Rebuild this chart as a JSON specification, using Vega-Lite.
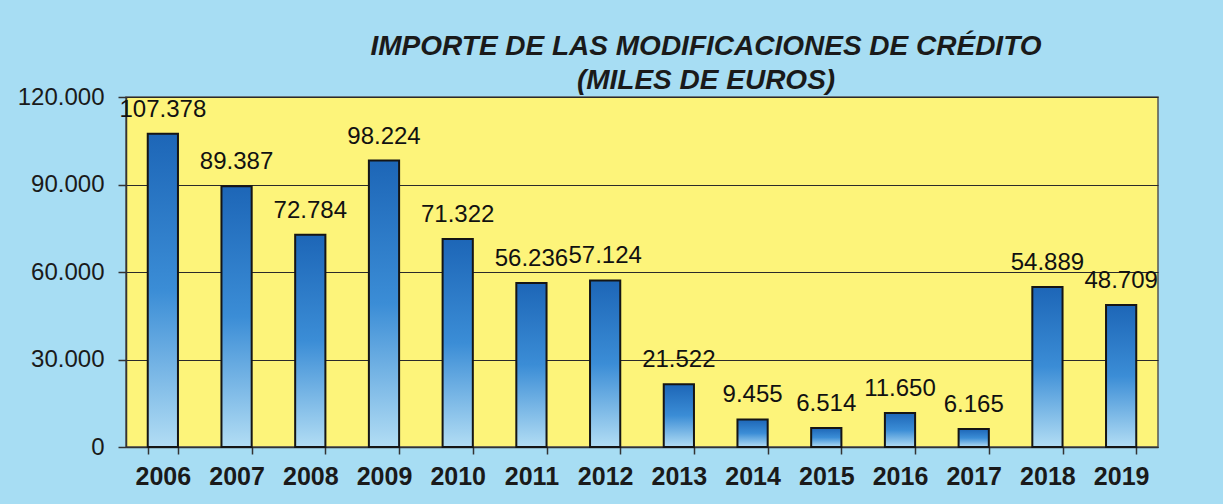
{
  "$schema": "https://vega.github.io/schema/vega-lite/v6.json",
  "width": 1032,
  "height": 350,
  "autosize": {"type": "none"},
  "padding": {"left": 126, "top": 97, "right": 65, "bottom": 57},
  "background": "#a7ddf3",
  "title": {
    "text": ["IMPORTE DE LAS MODIFICACIONES DE CRÉDITO", "(MILES DE EUROS)"],
    "anchor": "middle",
    "dx": 64,
    "dy": 18,
    "offset": 8,
    "font": "Liberation Sans",
    "fontSize": 28,
    "fontStyle": "italic",
    "fontWeight": "bold",
    "color": "#1a1a1a",
    "lineHeight": 34
  },
  "data": {
    "values": [
      {"year": "2006", "value": 107378},
      {"year": "2007", "value": 89387},
      {"year": "2008", "value": 72784},
      {"year": "2009", "value": 98224},
      {"year": "2010", "value": 71322},
      {"year": "2011", "value": 56236},
      {"year": "2012", "value": 57124},
      {"year": "2013", "value": 21522},
      {"year": "2014", "value": 9455},
      {"year": "2015", "value": 6514},
      {"year": "2016", "value": 11650},
      {"year": "2017", "value": 6165},
      {"year": "2018", "value": 54889},
      {"year": "2019", "value": 48709}
    ]
  },
  "encoding": {
    "x": {
      "field": "year",
      "type": "ordinal",
      "title": null,
      "scale": {"paddingInner": 0.59, "paddingOuter": 0.295},
      "axis": {
        "labelAngle": 0,
        "labelFont": "Liberation Sans",
        "labelFontSize": 25,
        "labelFontWeight": "bold",
        "labelColor": "#1a1a1a",
        "labelPadding": 10,
        "tickBand": "extent",
        "tickSize": 7,
        "tickColor": "#333333",
        "domainColor": "#333333",
        "domainWidth": 1.5,
        "tickWidth": 1.5
      }
    },
    "y": {
      "field": "value",
      "type": "quantitative",
      "title": null,
      "scale": {"domain": [0, 120000], "nice": false},
      "axis": {
        "values": [0, 30000, 60000, 90000, 120000],
        "format": ",d",
        "labelFont": "Liberation Sans",
        "labelFontSize": 24,
        "labelColor": "#1a1a1a",
        "labelPadding": 14,
        "tickSize": 8,
        "tickColor": "#333333",
        "tickWidth": 1.5,
        "domainColor": "#333333",
        "domainWidth": 1.5,
        "grid": true,
        "gridColor": "#2a2a2a",
        "gridWidth": 1.2,
        "gridOpacity": 1
      }
    }
  },
  "layer": [
    {
      "mark": {
        "type": "bar",
        "stroke": "#151515",
        "strokeWidth": 2,
        "fill": {
          "gradient": "linear",
          "x1": 0, "y1": 0, "x2": 0, "y2": 1,
          "stops": [
            {"offset": 0, "color": "#1d66b7"},
            {"offset": 0.5, "color": "#3b8dd6"},
            {"offset": 1, "color": "#b2ddf4"}
          ]
        }
      }
    },
    {
      "mark": {
        "type": "text",
        "baseline": "alphabetic",
        "dy": -17,
        "font": "Liberation Sans",
        "fontSize": 24,
        "color": "#111111"
      },
      "encoding": {
        "text": {"field": "value", "type": "quantitative", "format": ",d"}
      }
    }
  ],
  "config": {
    "locale": {
      "number": {"decimal": ",", "thousands": ".", "grouping": [3], "currency": ["", " €"]}
    },
    "view": {"fill": "#fdf47a", "stroke": "#555555", "strokeWidth": 1.5}
  }
}
